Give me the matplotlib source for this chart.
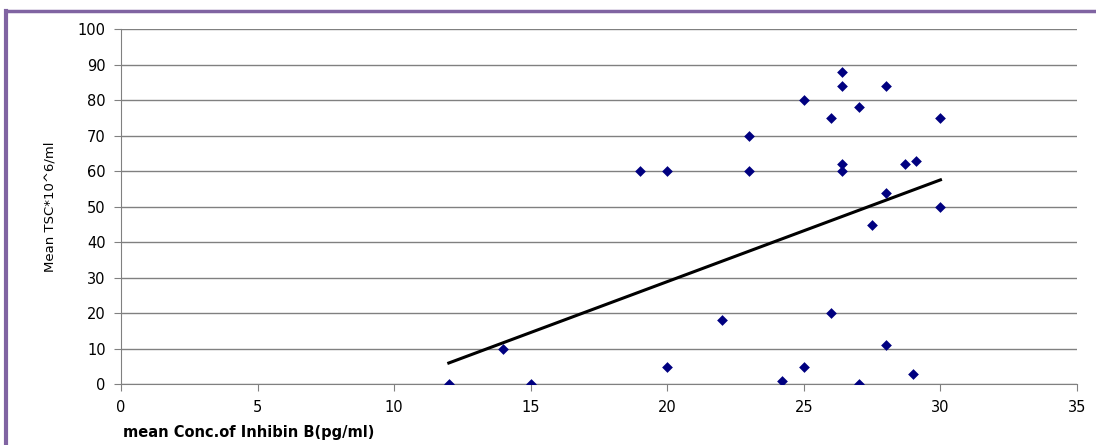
import numpy as np
import matplotlib
matplotlib.use("Agg")
import matplotlib.pyplot as plt
from matplotlib.lines import Line2D

# values
inhibin_b = [12, 15, 14, 20, 22, 24.2, 25, 26, 27, 28, 29,
             19, 20, 23, 23, 25, 26, 26.4, 26.4, 26.4, 26.4,
             27, 28, 28, 27.5, 28.7, 29.1, 30, 30]
tsc = [0, 0, 10, 5, 18, 1, 5, 20, 0, 11, 3,
       60, 60, 70, 60, 80, 75, 88, 84, 62, 60,
       78, 84, 54, 45, 62, 63, 75, 50]
# trendline ends as drawn in the reference
trend_x = [12, 30]
trend_y = [6, 57.6]
x_ticks = [0, 5, 10, 15, 20, 25, 30, 35]
y_ticks = [0, 10, 20, 30, 40, 50, 60, 70, 80, 90, 100]

fig = plt.figure(figsize=(10.96, 4.45), dpi=100)
ax = fig.add_axes([0.1104, 0.1364, 0.8723, 0.7976])

ax.scatter(inhibin_b, tsc, marker="D", s=30, color="#000080", zorder=3, linewidths=0)
ax.plot(trend_x, trend_y, color="black", lw=2.2, zorder=2)

ax.set_xlim(0, 35)
ax.set_ylim(0, 100)
ax.set_xticks(x_ticks)
ax.set_yticks(y_ticks)
ax.grid(axis="y", color="#808080", lw=1)
ax.set_axisbelow(True)
for s in ["top", "right"]:
    ax.spines[s].set_visible(False)
for s in ["left", "bottom"]:
    ax.spines[s].set_color("#808080")
ax.tick_params(direction="out", length=5, color="#808080", labelsize=10.5, pad=6)

ax.set_ylabel("Mean TSC*10^6/ml", family=["Liberation Sans Narrow", "DejaVu Sans"],
              fontsize=9.5, labelpad=15)
fig.text(0.112, 0.012, "mean Conc.of Inhibin B(pg/ml)", fontsize=10.5,
         fontweight="bold", family="DejaVu Sans", ha="left", va="bottom")

# purple frame along top and left edges
fig.add_artist(Line2D([0.0055, 1.0], [0.975, 0.975], color="#8064A2", lw=2.5,
                      transform=fig.transFigure))
fig.add_artist(Line2D([0.0055, 0.0055], [0.0, 0.975], color="#8064A2", lw=3,
                      transform=fig.transFigure))

fig.savefig("out.png", dpi=100)
